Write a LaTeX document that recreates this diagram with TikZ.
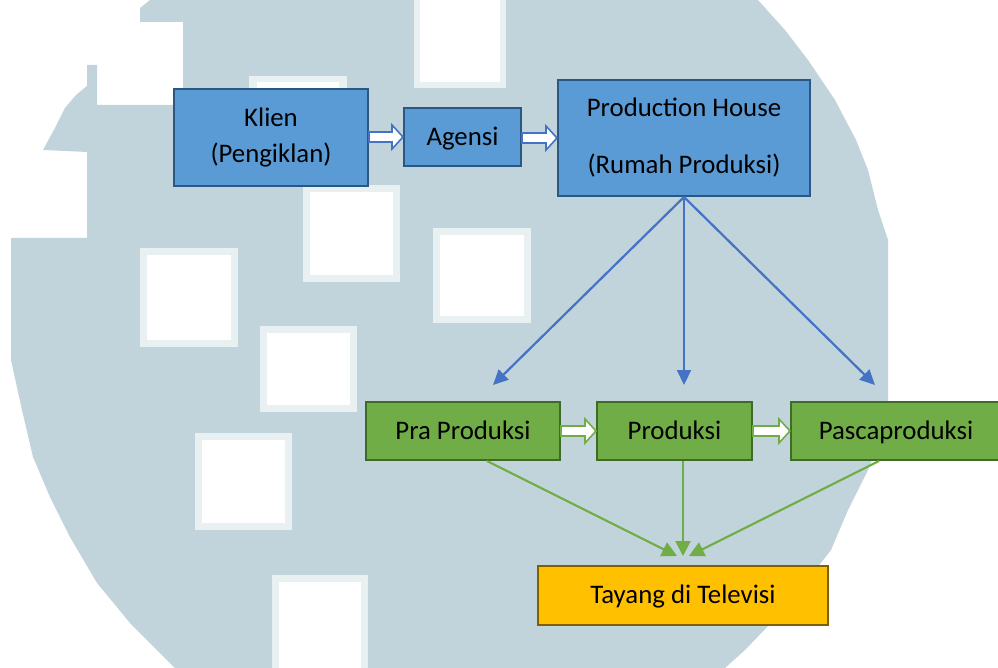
\documentclass[tikz,border=0pt]{standalone}
\usepackage{fontspec}
\setmainfont{Carlito}
\usetikzlibrary{arrows.meta,calc}
\definecolor{wmk}{HTML}{C2D4DB}
\definecolor{wmkedge}{HTML}{E9F0F2}
\definecolor{bluefill}{HTML}{5B9BD5}
\definecolor{blueedge}{HTML}{2B5783}
\definecolor{bluearr}{HTML}{4472C4}
\definecolor{greenfill}{HTML}{70AD47}
\definecolor{greenedge}{HTML}{3F6B28}
\definecolor{goldfill}{HTML}{FFC000}
\definecolor{goldedge}{HTML}{7F6000}
\newcommand{\hollowarr}[3]{%
  \draw[#3, line width=1.6pt, fill=white, line join=miter] let \p1=(#1.east), \p2=(#2.west) in
  (\x1,\y2-5) -- (\x2-11,\y2-5) -- (\x2-11,\y2-12) -- (\x2,\y2) -- (\x2-11,\y2+12)
  -- (\x2-11,\y2+5) -- (\x1,\y2+5) -- cycle;}
\begin{document}
\begin{tikzpicture}[x=1pt,y=-1pt,
  box/.style={draw, line width=2pt, inner sep=0pt, align=center,
    font=\fontsize{26.8}{36}\selectfont},
  oneline/.style={text height=20pt, text depth=3.6pt},
  bluebox/.style={box, fill=bluefill, draw=blueedge},
  greenbox/.style={box, oneline, fill=greenfill, draw=greenedge},
  goldbox/.style={box, oneline, fill=goldfill, draw=goldedge},
  bluearrow/.style={draw=bluearr, line width=2.2pt, -{Triangle[length=15pt,width=14pt]}},
  greenarrow/.style={draw=greenfill, line width=2.2pt, -{Triangle[length=15pt,width=15pt]}},
  wsq/.style={fill=wmkedge},
  wsqin/.style={fill=white}]
\useasboundingbox (0,0) rectangle (998,668);
\fill[white] (0,0) rectangle (998,668);
% watermark blob
\fill[wmk] (140,8) -- (150,0) -- (758,0) -- (785,30) -- (808,60) -- (835,100) -- (856,140)
  -- (868,170) -- (878,210) -- (888,240) -- (888,400) -- (880,440) -- (868,470)
  -- (848,510) -- (831,550) -- (800,590) -- (771,623) -- (745,650) -- (725,668)
  -- (175,668) -- (130,623) -- (97,583) -- (70,537) -- (50,497) -- (33,457)
  -- (22,410) -- (11,360) -- (11,238) -- (87,238) -- (87,152) -- (43,150)
  -- (55,128) -- (65,108) -- (76,95) -- (87,86) -- (87,65) -- (97,65) -- (97,105)
  -- (183,105) -- (183,22) -- (140,22) -- cycle;
% watermark squares
\fill[wsq] (414,0) rectangle (506,88);   \fill[wsqin] (420,0) rectangle (500,82);
\fill[wsq] (249,76) rectangle (347,110); \fill[wsqin] (257,82) rectangle (339,110);
\fill[wsq] (303,185) rectangle (400,282); \fill[wsqin] (310,192) rectangle (393,275);
\fill[wsq] (433,228) rectangle (531,323); \fill[wsqin] (440,235) rectangle (524,316);
\fill[wsq] (140,248) rectangle (238,347); \fill[wsqin] (147,255) rectangle (231,340);
\fill[wsq] (260,326) rectangle (357,412); \fill[wsqin] (267,333) rectangle (350,405);
\fill[wsq] (195,433) rectangle (292,530); \fill[wsqin] (202,440) rectangle (285,523);
\fill[wsq] (272,575) rectangle (368,668); \fill[wsqin] (279,582) rectangle (361,668);
% nodes
\node[bluebox, minimum width=194pt, minimum height=97pt] (klien) at (271,138) {Klien\\(Pengiklan)};
\node[bluebox, oneline, minimum width=117pt, minimum height=58pt] (agensi) at (462.5,137) {Agensi};
\node[bluebox, minimum width=252pt, minimum height=116pt] (ph) at (684,138)
  {Production House\\[21pt](Rumah Produksi)};
\node[greenbox, minimum width=194pt, minimum height=58pt] (pra) at (463,431) {Pra Produksi};
\node[greenbox, minimum width=155pt, minimum height=58pt] (prod) at (674.5,431) {Produksi};
\node[greenbox, minimum width=210pt, minimum height=58pt] (pasca) at (896,431) {Pascaproduksi};
\node[goldbox, minimum width=290pt, minimum height=59pt] (tayang) at (683,595.5) {Tayang di Televisi};
% hollow arrows
\hollowarr{klien}{agensi}{bluearr}
\hollowarr{agensi}{ph}{bluearr}
\hollowarr{pra}{prod}{greenfill}
\hollowarr{prod}{pasca}{greenfill}
% blue connectors
\coordinate (b1) at (493,385);
\coordinate (b2) at (684,385);
\coordinate (b3) at (875,385);
\draw[bluearrow] (ph.south) -- (b1);
\draw[bluearrow] (ph.south) -- (b2);
\draw[bluearrow] (ph.south) -- (b3);
% green connectors
\coordinate (g1) at (677,556);
\coordinate (g2) at (683,556);
\coordinate (g3) at (689,556);
\draw[greenarrow] ([xshift=24pt]pra.south) -- (g1);
\draw[greenarrow] ([xshift=8.5pt]prod.south) -- (g2);
\draw[greenarrow] ([xshift=-17pt]pasca.south) -- (g3);
\end{tikzpicture}
\end{document}
